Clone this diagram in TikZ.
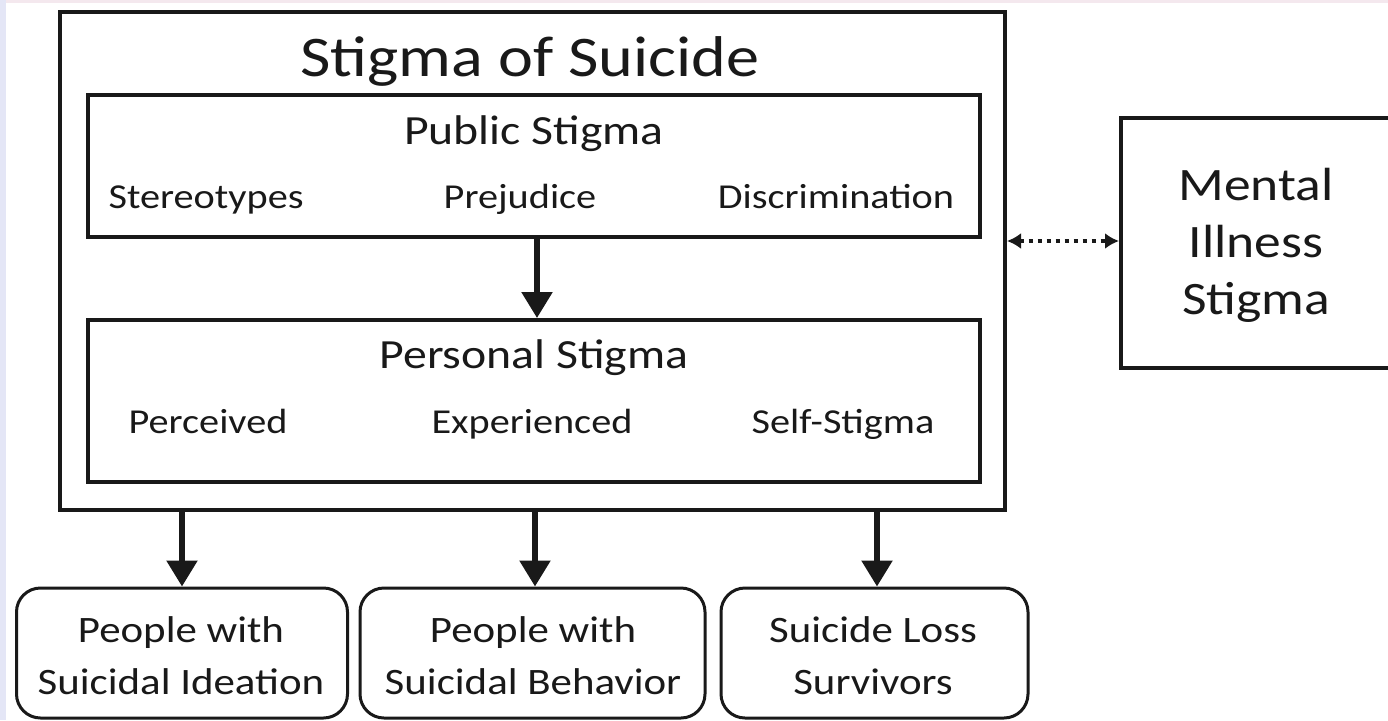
\documentclass[tikz,border=0pt]{standalone}
\usepackage{fontspec}
\setmainfont{Carlito}[FakeStretch=1.15]
\usetikzlibrary{arrows.meta}
\definecolor{ink}{RGB}{25,25,25}
\definecolor{edgetint}{RGB}{228,230,246}
\definecolor{toptint}{RGB}{244,232,238}
\tikzset{
  box/.style={draw=ink, line width=4pt, minimum width=#1, inner sep=0pt},
  endbox/.style={draw=ink, line width=3pt, rounded corners=24pt, inner sep=0pt},
  flow/.style={draw=ink, line width=5.5pt, -{Triangle[width=30pt,length=26pt]}},
  link/.style={draw=ink, line width=4pt, dash pattern=on 4pt off 5pt,
    {Latex[width=16pt,length=14pt]}-{Latex[width=16pt,length=14pt]}},
  lbl/.style={text=ink, inner sep=0pt, anchor=base},
}
\begin{document}
\begin{tikzpicture}[x=1pt, y=-1pt]
\useasboundingbox (0,0) rectangle (1388,720);
\clip (0,0) rectangle (1388,720);
\fill[white] (0,0) rectangle (1388,720);
\fill[edgetint] (0,0) rectangle (6,720);
\fill[toptint] (6,0) rectangle (1388,3);

% outer frame and its two inner panels
\node[box=945pt, minimum height=498pt] (outer) at (532.5,261) {};
\node[lbl, font=\fontsize{57.5}{60}\selectfont] (title) at (530,76) {Stigma of Suicide};

\node[box=892pt, minimum height=142pt] (public) at (534,166) {};
\node[lbl, font=\fontsize{41.5}{44}\selectfont] (pubhead) at (534,144) {Public Stigma};
\node[lbl, font=\fontsize{35}{38}\selectfont] (stereo) at (206,208) {Stereotypes};
\node[lbl, font=\fontsize{35}{38}\selectfont] (prej) at (520,208) {Prejudice};
\node[lbl, font=\fontsize{35}{38}\selectfont] (discr) at (836,208) {Discrimination};

\node[box=892pt, minimum height=162pt] (personal) at (534,401) {};
\node[lbl, font=\fontsize{41.5}{44}\selectfont] (perhead) at (534,368) {Personal Stigma};
\node[lbl, font=\fontsize{35}{38}\selectfont] (perc) at (208,433) {Perceived};
\node[lbl, font=\fontsize{35}{38}\selectfont] (exper) at (532,433) {Experienced};
\node[lbl, font=\fontsize{35}{38}\selectfont] (selfst) at (843,433) {Self-Stigma};

% side box
\node[box=280pt, minimum height=250pt] (mental) at (1261,243) {};
\node[text=ink, align=center, font=\fontsize{46.5}{57}\selectfont, inner sep=0pt] (mentaltext) at (1256,245) {Mental\\Illness\\Stigma};

% outcome boxes
\node[endbox, minimum width=331pt, minimum height=130pt] (ideation) at (182,653) {};
\node[endbox, minimum width=345pt, minimum height=130pt] (behavior) at (532.5,653) {};
\node[endbox, minimum width=307pt, minimum height=130pt] (loss) at (874.5,653) {};
\node[text=ink, align=center, font=\fontsize{37.3}{52}\selectfont, inner sep=0pt] (ideationtext) at (181,656) {People with\\Suicidal Ideation};
\node[text=ink, align=center, font=\fontsize{37.3}{52}\selectfont, inner sep=0pt] (behaviortext) at (533,656) {People with\\Suicidal Behavior};
\node[text=ink, align=center, font=\fontsize{37.3}{52}\selectfont, inner sep=0pt] (losstext) at (873,656) {Suicide Loss\\Survivors};

% connectors
\draw[flow] (public.south -| 537,0) -- (personal.north -| 537,0);
\draw[flow] (outer.south -| 182,0) -- (ideation.north -| 182,0);
\draw[flow] (outer.south -| 535,0) -- (behavior.north -| 535,0);
\draw[flow] (outer.south -| 877,0) -- (loss.north -| 877,0);
\draw[link] (outer.east |- 0,241) -- (mental.west |- 0,241);
\end{tikzpicture}
\end{document}
